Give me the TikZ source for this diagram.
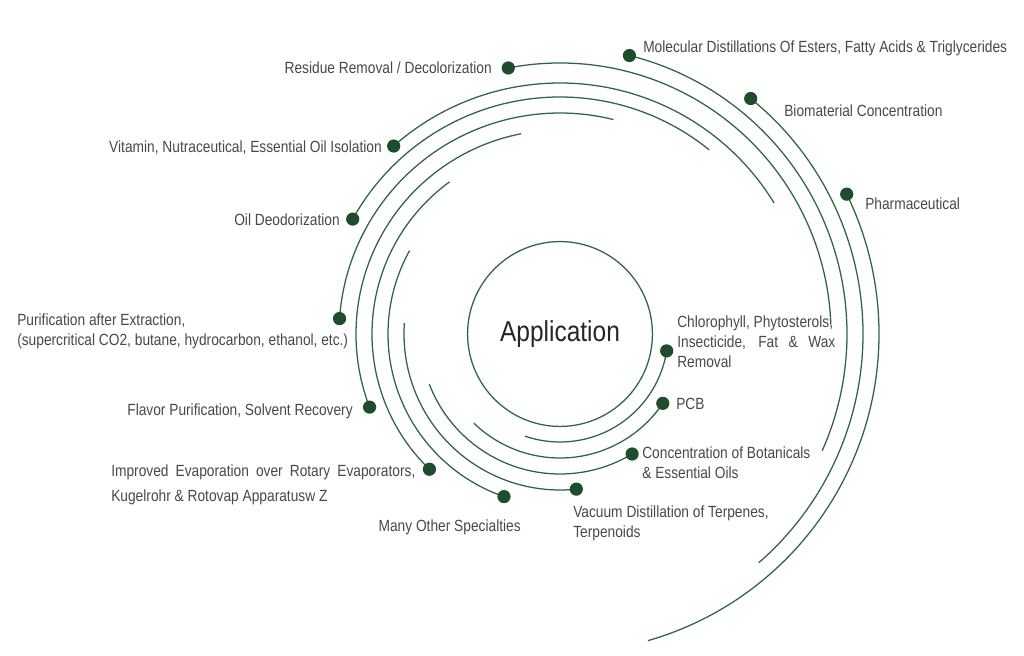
\documentclass[tikz,border=0pt]{standalone}
\usepackage{fontspec}
\setmainfont{Liberation Sans}[FakeStretch=0.85]
\usepackage{tikz}
\usetikzlibrary{calc}
\definecolor{ringgreen}{RGB}{48,100,64}
\definecolor{dotgreen}{RGB}{30,76,44}
\definecolor{labelgray}{RGB}{72,72,72}

\begin{document}
\begin{tikzpicture}[x=0.025cm, y=-0.025cm,
    ring/.style={draw=ringgreen, line width=0.9pt},
    dot/.style={circle, fill=dotgreen, inner sep=0pt, minimum size=0.33cm},
    lbl/.style={text=labelgray, inner sep=0pt, align=left, font=\fontsize{11.5}{14.2}\selectfont}]
    \useasboundingbox (0,0) rectangle (1024,656);
    \coordinate (c) at (560,334);
    \node[ring, circle, minimum size=4.62cm, text=black!85, font=\fontsize{20.5}{25}\selectfont] (app) at (c) {Application};
    % start points of the rings, inside out
    \coordinate (chl) at ($(c)+(9:108)$);
    \coordinate (pcb) at ($(c)+(34:124)$);
    \coordinate (bot) at ($(c)+(59:140)$);
    \coordinate (vac) at ($(c)+(84:156)$);
    \coordinate (oth) at ($(c)+(109:172)$);
    \coordinate (evp) at ($(c)+(134:188)$);
    \coordinate (flv) at ($(c)+(159:204)$);
    \coordinate (pur) at ($(c)+(184:221)$);
    \coordinate (deo) at ($(c)+(209:237)$);
    \coordinate (vit) at ($(c)+(228.5:251)$);
    \coordinate (res) at ($(c)+(259:271)$);
    \coordinate (mol) at ($(c)+(284:287)$);
    \coordinate (bio) at ($(c)+(309:303)$);
    \coordinate (pha) at ($(c)+(334:319)$);
    \draw[ring] (chl) arc[start angle=9, delta angle=100, radius=108];
    \draw[ring] (pcb) arc[start angle=34, delta angle=100, radius=124];
    \draw[ring] (bot) arc[start angle=59, delta angle=100, radius=140];
    \draw[ring] (vac) arc[start angle=84, delta angle=100, radius=156];
    \draw[ring] (oth) arc[start angle=109, delta angle=100, radius=172];
    \draw[ring] (evp) arc[start angle=134, delta angle=100, radius=188];
    \draw[ring] (flv) arc[start angle=159, delta angle=100, radius=204];
    \draw[ring] (pur) arc[start angle=184, delta angle=100, radius=221];
    \draw[ring] (deo) arc[start angle=209, delta angle=100, radius=237];
    \draw[ring] (vit) arc[start angle=228.5, delta angle=100, radius=251];
    \draw[ring] (res) arc[start angle=259, delta angle=99, radius=271];
    \draw[ring] (mol) arc[start angle=284, delta angle=100, radius=287];
    \draw[ring] (bio) arc[start angle=309, delta angle=100, radius=303];
    \draw[ring] (pha) arc[start angle=334, delta angle=100, radius=319];
    % dots
    \node[dot] (chldot) at (chl) {};
    \node[dot] (pcbdot) at (pcb) {};
    \node[dot] (botdot) at (bot) {};
    \node[dot] (vacdot) at (vac) {};
    \node[dot] (othdot) at (oth) {};
    \node[dot] (evpdot) at (evp) {};
    \node[dot] (flvdot) at (flv) {};
    \node[dot] (purdot) at (pur) {};
    \node[dot] (deodot) at (deo) {};
    \node[dot] (vitdot) at (vit) {};
    \node[dot] (resdot) at (res) {};
    \node[dot] (moldot) at (mol) {};
    \node[dot] (biodot) at (bio) {};
    \node[dot] (phadot) at (pha) {};
    % labels
    \node[lbl, anchor=west] (moltxt) at (643,48) {Molecular Distillations Of Esters, Fatty Acids \& Triglycerides};
    \node[lbl, anchor=west] (biotxt) at (784,111) {Biomaterial Concentration};
    \node[lbl, anchor=west] (phatxt) at (865,204) {Pharmaceutical};
    \node[lbl, anchor=west] (chltxt) at (677,342) {Chlorophyll, Phytosterols,\\ \makebox[3.95cm][s]{Insecticide, Fat \& Wax}\\ Removal};
    \node[lbl, anchor=west] (pcbtxt) at (676,404) {PCB};
    \node[lbl, anchor=west] (bottxt) at (642,463) {Concentration of Botanicals\\ \& Essential Oils};
    \node[lbl, anchor=west] (vactxt) at (573,523) {Vacuum Distillation of Terpenes,\\ Terpenoids};
    \node[lbl, anchor=east] (othtxt) at (521,527) {Many Other Specialties};
    \node[lbl, anchor=west, font=\fontsize{11.5}{17.8}\selectfont] (evptxt) at (111,485) {\makebox[7.6cm][s]{Improved Evaporation over Rotary Evaporators,}\\ Kugelrohr \& Rotovap Apparatusw Z};
    \node[lbl, anchor=east] (flvtxt) at (353,411) {Flavor Purification, Solvent Recovery};
    \node[lbl, anchor=west] (purtxt) at (17,331) {Purification after Extraction,\\ (supercritical CO2, butane, hydrocarbon, ethanol, etc.)};
    \node[lbl, anchor=east] (deotxt) at (340,220) {Oil Deodorization};
    \node[lbl, anchor=east] (vittxt) at (382,148) {Vitamin, Nutraceutical, Essential Oil Isolation};
    \node[lbl, anchor=east] (restxt) at (492,68) {Residue Removal / Decolorization};
\end{tikzpicture}
\end{document}
